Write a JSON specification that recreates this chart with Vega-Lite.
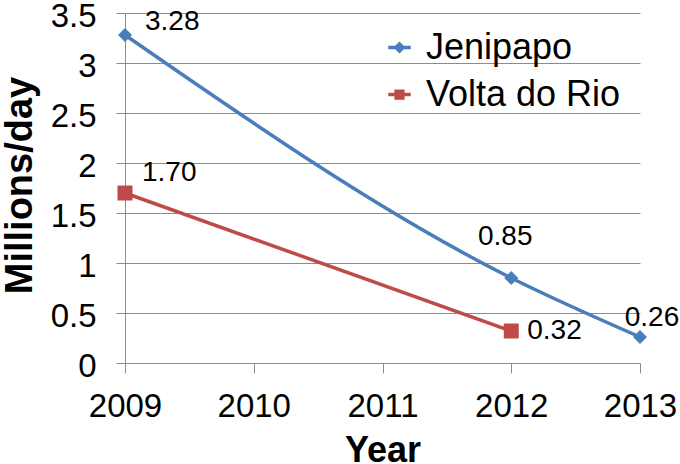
{
  "$schema": "https://vega.github.io/schema/vega-lite/v6.json",
  "width": 515,
  "height": 350,
  "autosize": {"type": "none"},
  "padding": {"left": 125, "top": 13, "right": 40, "bottom": 101},
  "background": "white",
  "config": {
    "view": {"stroke": null},
    "font": "Liberation Sans",
    "axis": {"labelFont": "Liberation Sans", "titleFont": "Liberation Sans", "labelColor": "black", "titleColor": "black"}
  },
  "data": {
    "values": [
      {"series": "Jenipapo", "year": 2009, "value": 3.28},
      {"series": "Jenipapo", "year": 2012, "value": 0.85},
      {"series": "Jenipapo", "year": 2013, "value": 0.26},
      {"series": "Volta do Rio", "year": 2009, "value": 1.70},
      {"series": "Volta do Rio", "year": 2012, "value": 0.32}
    ]
  },
  "encoding": {
    "x": {
      "field": "year", "type": "quantitative",
      "scale": {"domain": [2009, 2013], "nice": false, "zero": false},
      "axis": {
        "title": "Year", "values": [2009, 2010, 2011, 2012, 2013], "format": "d",
        "grid": false, "domain": false, "tickColor": "#8c8c8c", "tickSize": 10, "tickWidth": 1,
        "labelFontSize": 33, "labelBaseline": "alphabetic", "labelPadding": 43, "labelFlush": false,
        "titleFontSize": 36, "titleFontWeight": "bold", "titleBaseline": "alphabetic", "titleY": 98
      }
    },
    "y": {
      "field": "value", "type": "quantitative",
      "scale": {"domain": [0, 3.5], "nice": false},
      "axis": {
        "title": "Millions/day", "values": [0, 0.5, 1, 1.5, 2, 2.5, 3, 3.5], "format": "~g",
        "grid": true, "gridColor": "#8c8c8c", "gridWidth": 1,
        "domain": true, "domainColor": "#8c8c8c", "domainWidth": 1,
        "tickColor": "#8c8c8c", "tickSize": 9, "tickWidth": 1,
        "labelFontSize": 33, "labelPadding": 20, "labelBaseline": "alphabetic", "labelOffset": 13, "labelFlush": false,
        "titleFontSize": 38, "titleFontWeight": "bold", "titleBaseline": "alphabetic",
        "titleX": -94, "titleY": 172, "titleAngle": -90, "titleAlign": "center"
      }
    },
    "color": {
      "field": "series", "type": "nominal",
      "scale": {"domain": ["Jenipapo", "Volta do Rio"], "range": ["#4A7EBB", "#BE4B48"]},
      "legend": {
        "title": null, "orient": "none", "legendX": 250, "legendY": 10,
        "padding": 0, "rowPadding": 4, "symbolSize": 2025, "labelFontSize": 36,
        "labelFont": "Liberation Sans", "labelColor": "black", "labelOffset": 2, "labelLimit": 400,
        "symbolStrokeWidth": 3.5,
        "encode": {
          "symbols": {
            "update": {
              "shape": {"signal": "datum.value === 'Jenipapo' ? 'M-0.5,0H0.5M0,-0.16L0.16,0L0,0.16L-0.16,0Z' : 'M-0.5,0H0.5M-0.15,-0.15H0.15V0.15H-0.15Z'"},
              "fill": {"scale": "color", "field": "value"},
              "stroke": {"scale": "color", "field": "value"},
              "strokeWidth": {"value": 3.5},
              "opacity": {"value": 1},
              "fillOpacity": {"value": 1}
            }
          }
        }
      }
    }
  },
  "layer": [
    {
      "transform": [{"filter": "datum.series === 'Jenipapo'"}],
      "mark": {"type": "line", "strokeWidth": 3.5, "interpolate": "monotone"}
    },
    {
      "transform": [{"filter": "datum.series === 'Volta do Rio'"}],
      "mark": {"type": "line", "strokeWidth": 3.5}
    },
    {
      "transform": [{"filter": "datum.series === 'Jenipapo'"}],
      "mark": {"type": "point", "shape": "diamond", "size": 196, "filled": true, "opacity": 1}
    },
    {
      "transform": [{"filter": "datum.series === 'Volta do Rio'"}],
      "mark": {"type": "point", "shape": "square", "size": 225, "filled": true, "opacity": 1}
    },
    {
      "transform": [{"filter": "datum.series === 'Jenipapo' && datum.year === 2009"}],
      "mark": {"type": "text", "align": "left", "baseline": "middle", "dx": 20, "dy": -13, "fontSize": 28},
      "encoding": {"text": {"field": "value", "format": ".2f"}, "color": {"value": "black"}}
    },
    {
      "transform": [{"filter": "datum.series === 'Volta do Rio' && datum.year === 2009"}],
      "mark": {"type": "text", "align": "left", "baseline": "middle", "dx": 17, "dy": -20, "fontSize": 28},
      "encoding": {"text": {"field": "value", "format": ".2f"}, "color": {"value": "black"}}
    },
    {
      "transform": [{"filter": "datum.series === 'Jenipapo' && datum.year === 2012"}],
      "mark": {"type": "text", "align": "center", "baseline": "middle", "dx": -6, "dy": -41, "fontSize": 28},
      "encoding": {"text": {"field": "value", "format": ".2f"}, "color": {"value": "black"}}
    },
    {
      "transform": [{"filter": "datum.series === 'Volta do Rio' && datum.year === 2012"}],
      "mark": {"type": "text", "align": "left", "baseline": "middle", "dx": 16, "dy": 0, "fontSize": 28},
      "encoding": {"text": {"field": "value", "format": ".2f"}, "color": {"value": "black"}}
    },
    {
      "transform": [{"filter": "datum.series === 'Jenipapo' && datum.year === 2013"}],
      "mark": {"type": "text", "align": "center", "baseline": "middle", "dx": 12, "dy": -19, "fontSize": 28},
      "encoding": {"text": {"field": "value", "format": ".2f"}, "color": {"value": "black"}}
    }
  ]
}
